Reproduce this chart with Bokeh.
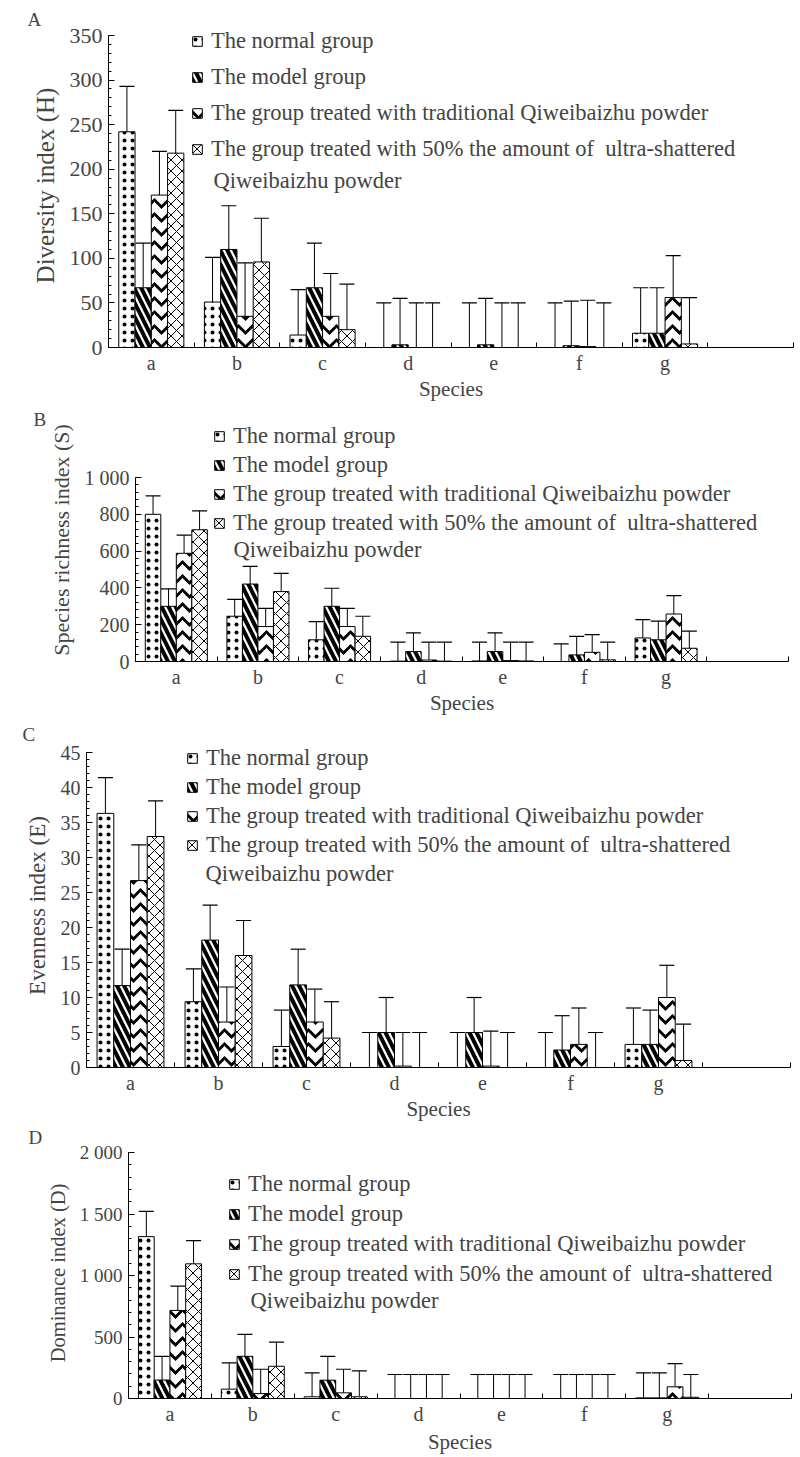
from bokeh.plotting import figure
from bokeh.models import (ColumnDataSource, FixedTicker, SingleIntervalTicker, Whisker, TeeHead,
                          Legend, LegendItem, Label, Range1d)
from bokeh.embed import file_html
from bokeh.resources import INLINE

FONT = "Liberation Serif"

species = ["a", "b", "c", "d", "e", "f", "g"]
groups = ["The normal group",
          "The model group",
          "The group treated with traditional Qiweibaizhu powder",
          "The group treated with 50% the amount of  ultra-shattered"]
wrap_text = "Qiweibaizhu powder"

# ---- Panel A: Diversity index (H)
A_normal = [242, 51, 14, 0, 0, 0, 16]
A_normal_sd = [51, 50, 51, 50, 50, 50, 51]
A_model = [67, 110, 67, 3, 3, 2, 16]
A_model_sd = [50, 49, 50, 52, 52, 50, 51]
A_trad = [171, 35, 35, 0, 0, 1, 56]
A_trad_sd = [49, 60, 48, 50, 50, 52, 47]
A_half = [218, 96, 20, 0, 0, 0, 4]
A_half_sd = [48, 49, 51, 50, 50, 50, 52]

# ---- Panel B: Species richness index (S)
B_normal = [800, 246, 118, 2, 3, 0, 128]
B_normal_sd = [100, 92, 99, 103, 102, 96, 100]
B_model = [300, 421, 300, 54, 54, 36, 118]
B_model_sd = [95, 96, 98, 102, 102, 101, 101]
B_trad = [588, 190, 190, 8, 5, 50, 258]
B_trad_sd = [99, 99, 99, 97, 100, 96, 100]
B_half = [716, 380, 137, 2, 3, 9, 72]
B_half_sd = [103, 99, 109, 103, 102, 96, 93]

# ---- Panel C: Evenness index (E)
C_normal = [36.3, 9.4, 3.0, 0, 0, 0, 3.3]
C_normal_sd = [5.1, 4.7, 5.2, 5.0, 5.0, 5.0, 5.2]
C_model = [11.7, 18.2, 11.8, 5.0, 5.0, 2.5, 3.3]
C_model_sd = [5.2, 5.0, 5.1, 5.0, 5.0, 4.9, 4.9]
C_trad = [26.7, 6.5, 6.5, 0.2, 0.2, 3.3, 10.0]
C_trad_sd = [5.1, 5.0, 4.7, 4.8, 5.0, 5.2, 4.6]
C_half = [33.0, 16.0, 4.2, 0, 0, 0, 1.0]
C_half_sd = [5.1, 5.0, 5.2, 5.0, 5.0, 5.0, 5.2]

# ---- Panel D: Dominance index (D)
D_normal = [1316, 76, 14, 0, 0, 0, 5]
D_normal_sd = [206, 214, 194, 195, 195, 195, 203]
D_model = [150, 343, 149, 0, 0, 0, 5]
D_model_sd = [193, 179, 194, 195, 195, 195, 203]
D_trad = [716, 40, 46, 0, 0, 0, 95]
D_trad_sd = [198, 198, 192, 195, 195, 195, 189]
D_half = [1095, 262, 14, 0, 0, 0, 10]
D_half_sd = [189, 197, 210, 195, 195, 195, 185]

offsets = [-0.285, -0.095, 0.095, 0.285]
bar_w = 0.19
styles = [
    dict(hatch_pattern="dot", hatch_scale=8, hatch_weight=2),
    dict(hatch_pattern="left_diagonal_line", hatch_scale=14, hatch_weight=4),
    dict(hatch_pattern="horizontal_wave", hatch_scale=14, hatch_weight=3),
    dict(hatch_pattern="diagonal_cross", hatch_scale=11, hatch_weight=1),
]

FIG_W = 796
LEG_FS = "22.5px"


def make_panel(series, fig_top, fig_bottom, frame_top, ymax_px, zero_px, left_px, right_px,
               ymax, yint, ylabel, ylabel_size, letter, letter_x, letter_standoff,
               legend_xy, legend_spacing, wrap_xy, tick_size, yoverrides=None,
               xlabel_standoff=0):
    height = fig_bottom - fig_top
    top = frame_top - fig_top
    bottom = fig_bottom - zero_px
    ppu = (zero_px - ymax_px) / ymax
    y_end = ymax + (ymax_px - frame_top) / ppu
    p = figure(width=FIG_W, height=height, output_backend="svg", toolbar_location=None,
               x_range=Range1d(0, 8), y_range=Range1d(0, y_end),
               min_border_left=left_px, min_border_right=FIG_W - right_px,
               min_border_top=top, min_border_bottom=bottom)
    p.outline_line_color = None
    p.xgrid.visible = False
    p.ygrid.visible = False
    p.background_fill_color = "white"

    p.title.text = letter
    p.title.align = "left"
    p.title.offset = letter_x - left_px
    p.title.standoff = letter_standoff
    p.title.vertical_align = "bottom"
    p.title.text_font = FONT
    p.title.text_font_style = "normal"
    p.title.text_font_size = "19px"

    renderers = []
    for k, (vals, sds) in enumerate(series):
        xs = [i + 0.5 + offsets[k] for i in range(len(species))]
        src = ColumnDataSource(dict(x=xs, top=vals,
                                    upper=[v + s for v, s in zip(vals, sds)]))
        r = p.vbar(x="x", top="top", width=bar_w, bottom=0, source=src,
                   fill_color="white", line_color="black", line_width=1,
                   hatch_color="black", **styles[k])
        renderers.append(r)
        w = Whisker(base="x", lower="top", upper="upper", source=src,
                    line_color="black", line_width=1,
                    upper_head=TeeHead(size=15, line_color="black", line_width=1.2),
                    lower_head=None)
        p.add_layout(w)

    xa = p.xaxis[0]
    xa.ticker = FixedTicker(ticks=[i + 0.5 for i in range(len(species))],
                            minor_ticks=list(range(9)))
    xa.major_label_overrides = {i + 0.5: s for i, s in enumerate(species)}
    xa.major_tick_in = 0
    xa.major_tick_out = 0
    xa.minor_tick_in = 5
    xa.minor_tick_out = 0
    xa.axis_label = "Species"
    xa.axis_label_text_font = FONT
    xa.axis_label_text_font_style = "normal"
    xa.axis_label_text_font_size = "21px"
    xa.axis_label_standoff = xlabel_standoff
    xa.major_label_text_font = FONT
    xa.major_label_text_font_size = "20px"
    xa.major_label_standoff = 4
    xa.axis_line_color = "black"

    ya = p.yaxis[0]
    ya.bounds = (0, ymax)
    ya.ticker = SingleIntervalTicker(interval=yint, num_minor_ticks=5)
    if yoverrides:
        ya.major_label_overrides = yoverrides
    ya.major_tick_in = 6
    ya.major_tick_out = 0
    ya.minor_tick_in = 3
    ya.minor_tick_out = 0
    ya.major_label_text_font = FONT
    ya.major_label_text_font_size = tick_size
    ya.major_label_standoff = 6
    ya.axis_label = ylabel
    ya.axis_label_text_font = FONT
    ya.axis_label_text_font_style = "normal"
    ya.axis_label_text_font_size = ylabel_size
    ya.axis_label_standoff = 8
    ya.axis_line_color = "black"

    items = [LegendItem(label=g, renderers=[r]) for g, r in zip(groups, renderers)]
    leg = Legend(items=items, location=legend_xy, padding=0, margin=0,
                 spacing=legend_spacing, label_height=26, glyph_height=12, glyph_width=12,
                 label_standoff=8, label_text_font=FONT, label_text_font_size=LEG_FS,
                 border_line_color=None, background_fill_alpha=0)
    p.add_layout(leg)

    p.add_layout(Label(x=wrap_xy[0], y=wrap_xy[1], x_units="screen", y_units="screen",
                       text=wrap_text, text_font=FONT, text_font_size=LEG_FS,
                       text_baseline="middle", text_align="left"))
    return p


pA = make_panel([(A_normal, A_normal_sd), (A_model, A_model_sd), (A_trad, A_trad_sd),
                 (A_half, A_half_sd)],
                fig_top=0, fig_bottom=404, frame_top=23, ymax_px=35, zero_px=347,
                left_px=108, right_px=793, ymax=350, yint=50,
                ylabel="Diversity index (H)", ylabel_size="25px",
                letter="A", letter_x=27, letter_standoff=-13,
                legend_xy=(83, 185), legend_spacing=10, wrap_xy=(105, 167), tick_size="22px")

pB = make_panel([(B_normal, B_normal_sd), (B_model, B_model_sd), (B_trad, B_trad_sd),
                 (B_half, B_half_sd)],
                fig_top=404, fig_bottom=718, frame_top=418, ymax_px=477, zero_px=661,
                left_px=135, right_px=788, ymax=1000, yint=200,
                ylabel="Species richness index (S)", ylabel_size="22px",
                letter="B", letter_x=33, letter_standoff=-23,
                legend_xy=(78, 125), legend_spacing=3, wrap_xy=(98, 112), tick_size="20px",
                yoverrides={1000: "1 000"})

pC = make_panel([(C_normal, C_normal_sd), (C_model, C_model_sd), (C_trad, C_trad_sd),
                 (C_half, C_half_sd)],
                fig_top=718, fig_bottom=1124, frame_top=743, ymax_px=752, zero_px=1067,
                left_px=86, right_px=790, ymax=45, yint=5,
                ylabel="Evenness index (E)", ylabel_size="23px",
                letter="C", letter_x=22, letter_standoff=-3,
                legend_xy=(100, 209), legend_spacing=3, wrap_xy=(119, 194), tick_size="20px")

pD = make_panel([(D_normal, D_normal_sd), (D_model, D_model_sd), (D_trad, D_trad_sd),
                 (D_half, D_half_sd)],
                fig_top=1124, fig_bottom=1457, frame_top=1147, ymax_px=1152, zero_px=1398,
                left_px=128, right_px=791, ymax=2000, yint=500,
                ylabel="Dominance index (D)", ylabel_size="20.5px",
                letter="D", letter_x=28, letter_standoff=-1,
                legend_xy=(100, 111), legend_spacing=4, wrap_xy=(122, 98), tick_size="19px",
                yoverrides={1000: "1 000", 1500: "1 500", 2000: "2 000"}, xlabel_standoff=2)

open("out.html", "w").write(file_html([pA, pB, pC, pD], INLINE))
